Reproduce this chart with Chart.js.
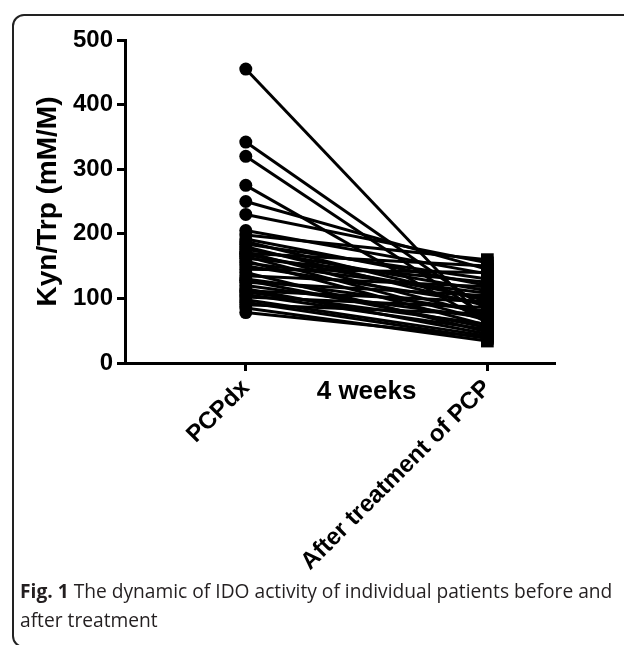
<!DOCTYPE html>
<html>
<head>
<meta charset="utf-8">
<script src="https://cdn.jsdelivr.net/npm/chart.js@4"></script>
<style>
  html, body { margin: 0; padding: 0; background: #fff; }
  body { width: 624px; height: 645px; position: relative; overflow: hidden; }
  #frame {
    position: absolute; left: 12px; top: 14px; width: 700px; height: 634px;
    border: 2px solid #222; border-radius: 12px; box-sizing: border-box;
  }
  #wrap { position: absolute; left: 0; top: 0; width: 624px; height: 580px; }
  #caption {
    position: absolute; left: 20px; top: 576px; width: 604px;
    font-family: "Open Sans", sans-serif; font-size: 19.2px; line-height: 29px; color: #231f20;
  }
</style>
</head>
<body>
<div id="frame"></div>
<div id="wrap"><canvas id="idoChart"></canvas></div>
<div id="caption"><b>Fig. 1</b> The dynamic of IDO activity of individual patients before and after treatment</div>
<script>
const groups = ['PCPdx', 'After treatment of PCP'];
const yTicks = [0, 100, 200, 300, 400, 500];

// Kyn/Trp per patient, before (PCPdx) and 4 weeks after treatment
const pcpdx = [455, 342, 320, 275, 250, 230, 205, 198, 192, 188, 184, 180, 176, 172, 170, 168,
  165, 162, 158, 155, 150, 145, 140, 135, 130, 128, 125, 120, 115, 112, 110, 106, 102, 98, 94, 90, 85, 78];
const afterTx = [62, 82, 71, 62, 145, 155, 138, 160, 120, 96, 130, 88, 112, 74, 150, 100,
  66, 125, 58, 108, 92, 140, 48, 118, 80, 55, 104, 70, 45, 95, 60, 52, 86, 42, 38, 76, 34, 40];

const FONT = "'Liberation Sans', Arial, sans-serif";

const datasets = pcpdx.map((v, i) => ({
  data: [{ x: 0, y: v }, { x: 1, y: afterTx[i] }],
  borderColor: '#000',
  backgroundColor: '#000',
  borderWidth: 3,
  pointStyle: ['circle', 'rect'],
  pointRadius: [6.5, 9],
  pointBorderWidth: 0,
  pointHoverRadius: [6.5, 9]
}));

// "4 weeks" between the two groups
const midLabel = {
  id: 'midLabel',
  afterDraw(chart) {
    const ctx = chart.ctx;
    const xs = chart.scales.x;
    ctx.save();
    ctx.font = 'bold 26px ' + FONT;
    ctx.fillStyle = '#000';
    ctx.textAlign = 'center';
    ctx.textBaseline = 'middle';
    ctx.fillText('4 weeks', xs.getPixelForValue(0.5), 392);
    ctx.restore();
  }
};

new Chart(document.getElementById('idoChart'), {
  type: 'line',
  data: { datasets: datasets },
  plugins: [midLabel],
  options: {
    responsive: true,
    maintainAspectRatio: false,
    animation: false,
    layout: { padding: { top: 40, right: 69, left: 31, bottom: 0 } },
    plugins: { legend: { display: false }, tooltip: { enabled: false } },
    scales: {
      x: {
        type: 'linear',
        min: -0.5,
        max: 1.28,
        afterBuildTicks: s => { s.ticks = [{ value: 0 }, { value: 1 }]; },
        afterFit: s => { s.height = 217; },
        grid: { drawOnChartArea: false, tickLength: 8, tickWidth: 3, tickColor: '#000' },
        border: { color: '#000', width: 3 },
        ticks: {
          autoSkip: false, minRotation: 45, maxRotation: 45,
          color: '#000', font: { family: FONT, size: 24, weight: 'bold' },
          callback: v => groups[v]
        }
      },
      y: {
        min: 0,
        max: 500,
        afterBuildTicks: s => { s.ticks = yTicks.map(v => ({ value: v })); },
        afterFit: s => { s.width = 94; },
        grid: { drawOnChartArea: false, tickLength: 8, tickWidth: 3, tickColor: '#000' },
        border: { color: '#000', width: 3 },
        ticks: { color: '#000', padding: 4, font: { family: FONT, size: 24, weight: 'bold' } },
        title: {
          display: true, text: 'Kyn/Trp (mM/M)', color: '#000',
          font: { family: FONT, size: 28, weight: 'bold' }, padding: { top: 0, bottom: 0 }
        }
      }
    }
  }
});
</script>
</body>
</html>
